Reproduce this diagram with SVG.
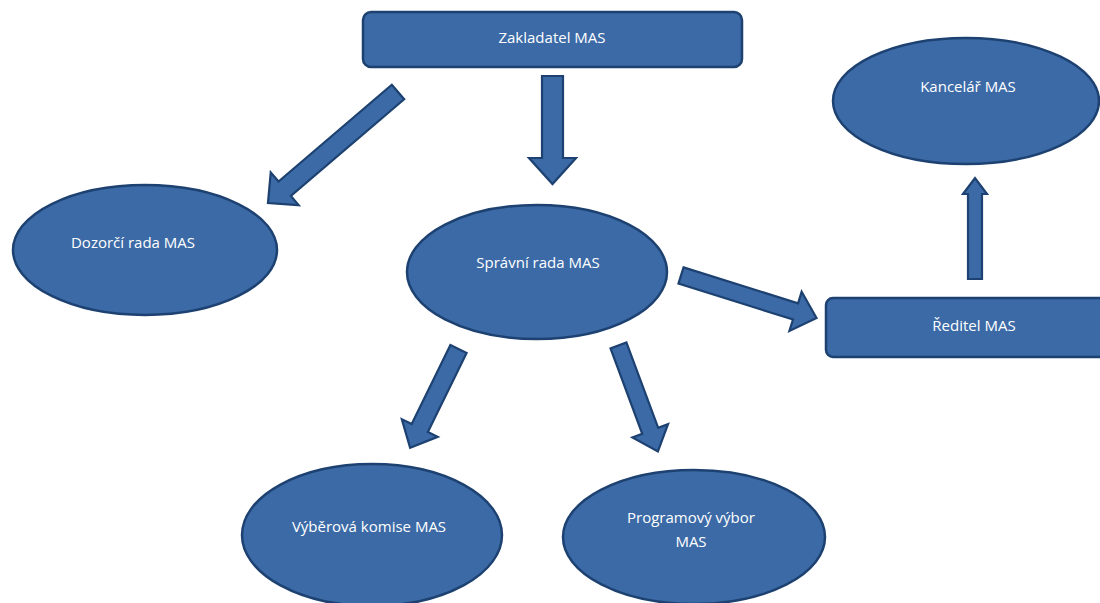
<svg xmlns="http://www.w3.org/2000/svg" width="1100" height="603" viewBox="0 0 1100 603">
<style>
.node{fill:#3b6aa6;stroke:#1d4170;stroke-width:2.5}
.arr{fill:#3b6aa6;stroke:#1d4170;stroke-width:2.2;stroke-linejoin:miter}
.lbl{fill:#ffffff;font-family:"Open Sans","Liberation Sans",sans-serif;font-size:15px;text-anchor:middle}
</style>
<rect width="1100" height="603" fill="#ffffff"/>
<g id="connectors">
<polygon class="arr" transform="translate(398,92) rotate(139.5)" points="0,-9.5 149,-9.5 149,-21.5 171,0 149,21.5 149,9.5 0,9.5"/>
<polygon class="arr" transform="translate(552.5,76) rotate(90)" points="0,-10.5 82,-10.5 82,-23.5 108,0 82,23.5 82,10.5 0,10.5"/>
<polygon class="arr" transform="translate(458.5,349) rotate(116.1)" points="0,-9 88,-9 88,-20 110,0 88,20 88,9 0,9"/>
<polygon class="arr" transform="translate(618.5,345.5) rotate(69.6)" points="0,-8.5 91,-8.5 91,-19 113,0 91,19 91,8.5 0,8.5"/>
<polygon class="arr" transform="translate(681,275.5) rotate(17.4)" points="0,-8.5 120,-8.5 120,-20.5 142,0 120,20.5 120,8.5 0,8.5"/>
<polygon class="arr" transform="translate(975,279) rotate(-90)" points="0,-7 85,-7 85,-12 101,0 85,12 85,7 0,7"/>
</g>
<g id="zakladatel">
<rect class="node" x="363" y="12" width="379" height="55" rx="8"/>
<text class="lbl" x="552" y="43">Zakladatel MAS</text>
</g>
<g id="kancelar">
<ellipse class="node" cx="966" cy="101" rx="133" ry="63"/>
<text class="lbl" x="968" y="92">Kancelář MAS</text>
</g>
<g id="reditel">
<rect class="node" x="826" y="298" width="290" height="59" rx="7"/>
<text class="lbl" x="974" y="331">Ředitel MAS</text>
</g>
<g id="dozorci">
<ellipse class="node" cx="145" cy="250" rx="132" ry="65"/>
<text class="lbl" x="133" y="248">Dozorčí rada MAS</text>
</g>
<g id="spravni">
<ellipse class="node" cx="537" cy="272" rx="130" ry="67"/>
<text class="lbl" x="538" y="268">Správní rada MAS</text>
</g>
<g id="vyberova">
<ellipse class="node" cx="372" cy="535" rx="130" ry="71"/>
<text class="lbl" x="369" y="532">Výběrová komise MAS</text>
</g>
<g id="programovy">
<ellipse class="node" cx="694" cy="537" rx="131" ry="67"/>
<text class="lbl" x="691" y="523">Programový výbor</text>
<text class="lbl" x="691" y="547">MAS</text>
</g>
</svg>
